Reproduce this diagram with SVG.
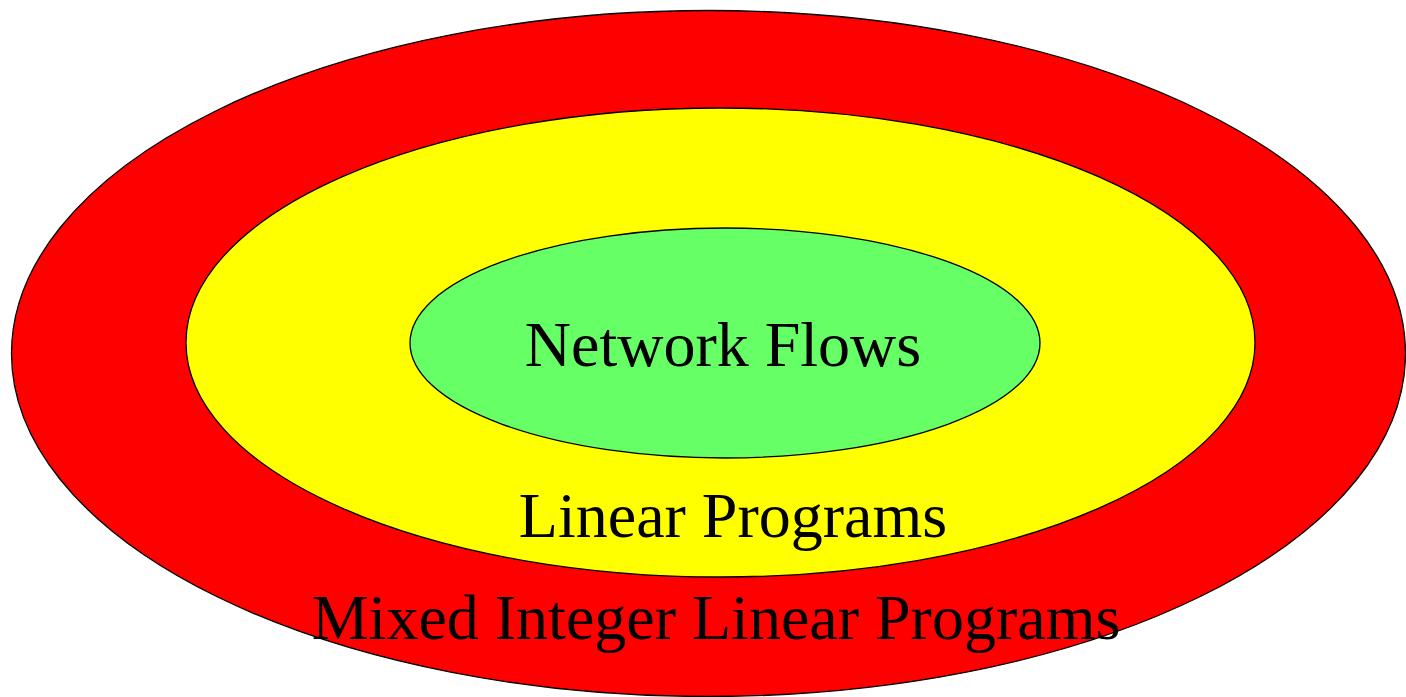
<svg xmlns="http://www.w3.org/2000/svg" width="1406" height="697" viewBox="0 0 1406 697">
  <style>
    .ring { stroke: #000000; stroke-width: 1.3; }
    .label { font-family: "Liberation Serif", "Times New Roman", serif; font-size: 64px; fill: #000000; text-anchor: middle; }
  </style>
  <rect width="1406" height="697" fill="#ffffff"/>
  <g id="milp">
    <ellipse class="ring" cx="708.5" cy="353.5" rx="697" ry="343" fill="#ff0000"/>
    <text class="label" x="716" y="639">Mixed Integer Linear Programs</text>
  </g>
  <g id="lp">
    <ellipse class="ring" cx="720.5" cy="342.5" rx="534.5" ry="234.5" fill="#ffff00"/>
    <text class="label" x="733" y="537">Linear Programs</text>
  </g>
  <g id="netflow">
    <ellipse class="ring" cx="725" cy="343" rx="315" ry="115" fill="#66ff66"/>
    <text class="label" x="723" y="366">Network Flows</text>
  </g>
  <g id="connectors"/>
</svg>
